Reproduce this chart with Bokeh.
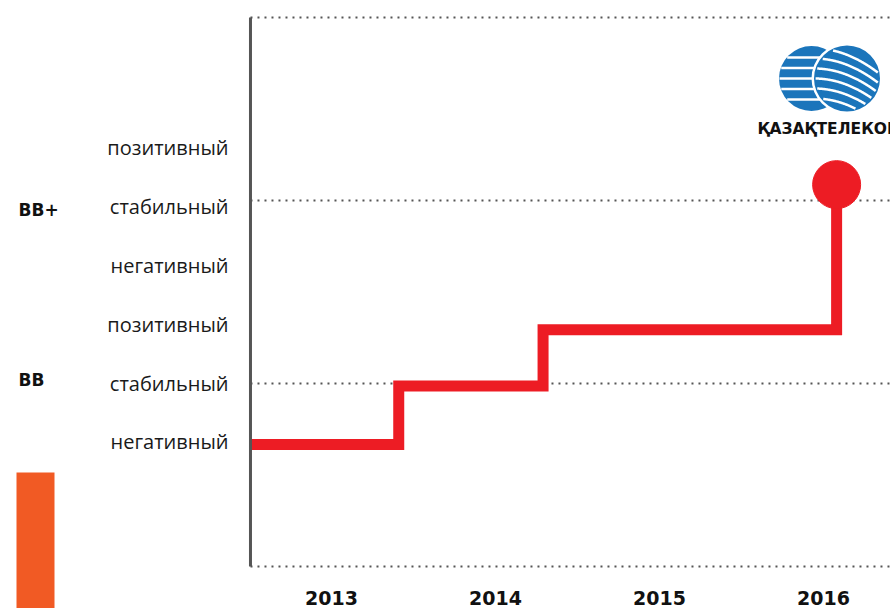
import numpy as np
from bokeh.plotting import figure
from bokeh.models import Range1d
from bokeh.core.properties import value
from bokeh.embed import file_html
from bokeh.resources import INLINE

# ---------------- data ----------------
years = [2013, 2014, 2015, 2016]
year_labels = ["2013", "2014", "2015", "2016"]
outlook_levels = [1, 2, 3, 4, 5, 6]
outlook_label_pos = [1.05, 2.0, 2.97, 3.93, 4.90, 5.87]
outlook_labels = ["негативный", "стабильный", "позитивный",
                  "негативный", "стабильный", "позитивный"]
rating_names = ["BB", "BB+"]
rating_label_levels = [2.05, 4.85]
grid_levels = [-1, 2, 5, 8]
axis_x = 2012.506           # left edge of the time axis
# rating path: date of change (fractional year) and level
change_x = [2012.506, 2013.41, 2014.29, 2016.08]
change_y = [1.0, 1.96, 2.88, 5.26]
logo_text = "ҚАЗАҚТЕЛЕКОМ"

RED = "#ED1C24"
BLUE = "#1B75BB"
ORANGE = "#F15A24"
GRAY = "#555555"
FONT = "Open Sans"
BOLD = "DejaVu Sans"

# ------------- layout helpers (picture pixel -> data) -------------
def lx(px):
    return 2013 + (px - 331) / 164.0

def ly(py):
    return 2 + (383 - py) / 61.0

# ---------------- figure (frame covers the whole picture) ----------------
p = figure(width=890, height=608,
           x_range=Range1d(lx(0), lx(890)),
           y_range=Range1d(ly(608), ly(0)),
           output_backend="svg", toolbar_location=None,
           x_axis_location=None, y_axis_location=None,
           min_border=0)
p.outline_line_color = None
p.background_fill_color = "white"
p.grid.visible = False

x_end = lx(890)
# dotted grid lines
p.segment(x0=[axis_x] * len(grid_levels), x1=[x_end] * len(grid_levels),
          y0=grid_levels, y1=grid_levels,
          line_color=GRAY, line_dash="2 5", line_width=2)

# outlook labels (y ticks)
p.text(x=[lx(228)] * len(outlook_labels), y=outlook_label_pos, text=outlook_labels,
       text_font=value(FONT), text_font_size="20px", text_color="#1a1a1a",
       text_align="right", text_baseline="middle")
# year labels (x ticks)
p.text(x=years, y=[ly(597)] * len(years), text=year_labels,
       text_font=value(BOLD), text_font_style="bold", text_font_size="19px",
       text_color="#111111", text_align="center", text_baseline="middle")
# rating names
p.text(x=[lx(18)] * len(rating_names), y=rating_label_levels, text=rating_names,
       text_font=value(BOLD), text_font_style="bold", text_font_size="17px",
       text_color="#111111", text_align="left", text_baseline="middle")
# orange bar
p.quad(left=[lx(16)], right=[lx(54)], top=[ly(472)], bottom=[ly(620)],
       color=ORANGE, line_color=None)

# rating path
p.step(change_x, change_y, mode="after", line_color=RED, line_width=11,
       line_join="miter")
p.scatter([change_x[-1]], [change_y[-1]], size=48, color=RED)

# vertical axis line (drawn over the start of the path)
p.segment(x0=[axis_x], x1=[axis_x], y0=[min(grid_levels)], y1=[max(grid_levels)],
          line_color=GRAY, line_width=3)

# ---------------- logo (decoration) ----------------
lc = (811, 78)
rc = (846.5, 78)
R = 32.5
p.scatter([lx(lc[0])], [ly(lc[1])], size=2 * R, color=BLUE, line_color=None)
xs, ys = [], []
for sy in [57, 67.5, 78, 88.5, 99]:
    dy = sy - lc[1]
    hw = np.sqrt(max(R * R - dy * dy, 0)) - 0.5
    xs.append([lx(lc[0] - hw), lx(lc[0] + hw)])
    ys.append([ly(sy), ly(sy)])
p.multi_line(xs, ys, line_color="white", line_width=2.5)
p.scatter([lx(rc[0])], [ly(rc[1])], size=2 * R + 6, color="white", line_color=None)
p.scatter([lx(rc[0])], [ly(rc[1])], size=2 * R + 1, color=BLUE, line_color=None)
xs, ys = [], []
for y0 in [48, 58, 68, 78, 88, 98, 108]:
    px = np.linspace(rc[0] - R, rc[0] + R, 120)
    py = y0 + 0.006 * (px - (rc[0] - R)) ** 2
    inside = (px - rc[0]) ** 2 + (py - rc[1]) ** 2 < (R - 1) ** 2
    if inside.sum() > 2:
        xs.append([lx(v) for v in px[inside]])
        ys.append([ly(v) for v in py[inside]])
p.multi_line(xs, ys, line_color="white", line_width=2.5)
p.text(x=[lx(757)], y=[ly(128.5)], text=[logo_text],
       text_font=value(BOLD), text_font_style="bold",
       text_font_size="15.5px", text_baseline="middle", text_align="left",
       text_color="#111111")

open("out.html", "w").write(file_html(p, INLINE))
